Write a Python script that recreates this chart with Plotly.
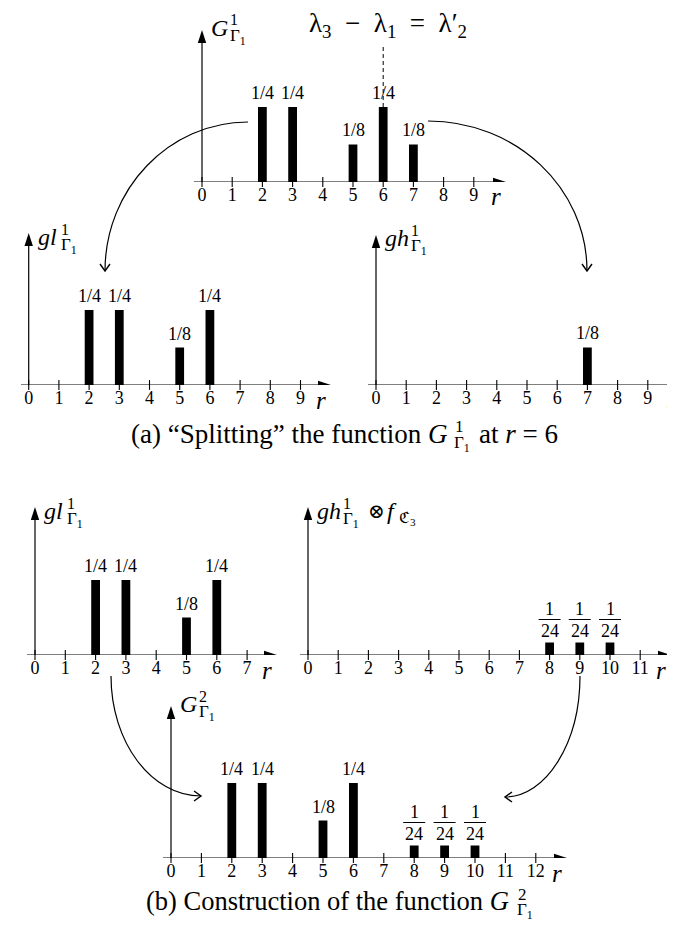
import plotly.graph_objects as go

W, H = 675, 927
FONT = "'Liberation Serif', 'Times New Roman', 'DejaVu Serif', serif"

# ---------------- data ----------------
r_G1 = [2, 3, 5, 6, 7]
p_G1 = [1/4, 1/4, 1/8, 1/4, 1/8]
lab_G1 = ["1/4", "1/4", "1/8", "1/4", "1/8"]

r_gl = [2, 3, 5, 6]
p_gl = [1/4, 1/4, 1/8, 1/4]
lab_gl = ["1/4", "1/4", "1/8", "1/4"]

r_gh = [7]
p_gh = [1/8]
lab_gh = ["1/8"]

r_ghf = [8, 9, 10]
p_ghf = [1/24, 1/24, 1/24]
lab_ghf = ["1/24", "1/24", "1/24"]

r_G2 = [2, 3, 5, 6, 8, 9, 10]
p_G2 = [1/4, 1/4, 1/8, 1/4, 1/24, 1/24, 1/24]
lab_G2 = ["1/4", "1/4", "1/8", "1/4", "1/24", "1/24", "1/24"]

ticks_G1 = list(range(0, 10))
ticks_gl_a = list(range(0, 10))
ticks_gh_a = list(range(0, 10))
ticks_gl_b = list(range(0, 8))
ticks_ghf = list(range(0, 12))
ticks_G2 = list(range(0, 13))

split_r = 6

# ---------------- layout geometry (pixels) ----------------
PXU = 300.0  # pixels per probability unit
panels = [
    dict(r=r_G1, p=p_G1, lab=lab_G1, ticks=ticks_G1, x0=194, s=30.2, base=174, xs=186, xt=498, yt=22),
    dict(r=r_gl, p=p_gl, lab=lab_gl, ticks=ticks_gl_a, x0=20.7, s=30.2, base=377, xs=13, xt=323, yt=225),
    dict(r=r_gh, p=p_gh, lab=lab_gh, ticks=ticks_gh_a, x0=368, s=30.2, base=377, xs=360, xt=673, yt=227),
    dict(r=r_gl, p=p_gl, lab=lab_gl, ticks=ticks_gl_b, x0=27, s=30.3, base=647, xs=19, xt=269, yt=499),
    dict(r=r_ghf, p=p_ghf, lab=lab_ghf, ticks=ticks_ghf, x0=300, s=30.2, base=647, xs=292, xt=663, yt=499),
    dict(r=r_G2, p=p_G2, lab=lab_G2, ticks=ticks_G2, x0=163, s=30.4, base=850, xs=155, xt=559, yt=698),
]

fig = go.Figure()
shapes = []
annotations = []
layout = {}


def PX(x):
    return x / W


def PY(y):
    return 1 - y / H


def txt(x, y, text, size, xanchor="left", yanchor="middle", italic=False):
    if italic:
        text = "<i>" + text + "</i>"
    annotations.append(dict(x=PX(x), y=PY(y), xref="paper", yref="paper", text=text,
                            showarrow=False, xanchor=xanchor, yanchor=yanchor,
                            font=dict(family=FONT, size=size, color="black")))


for k, P in enumerate(panels, start=1):
    xn = "x" if k == 1 else f"x{k}"
    yn = "y" if k == 1 else f"y{k}"
    xk = "xaxis" if k == 1 else f"xaxis{k}"
    yk = "yaxis" if k == 1 else f"yaxis{k}"
    xr = [(P["xs"] - P["x0"]) / P["s"], (P["xt"] - P["x0"]) / P["s"]]
    yr = [0, (P["base"] - P["yt"]) / PXU]
    layout[xk] = dict(domain=[PX(P["xs"]), PX(P["xt"])], range=xr, anchor="free",
                      position=PY(P["base"] - 5),
                      tickvals=P["ticks"], ticktext=[str(t) for t in P["ticks"]],
                      ticks="outside", ticklen=1, tickcolor="rgba(0,0,0,0)",
                      tickfont=dict(family=FONT, size=18, color="black"),
                      showgrid=False, zeroline=False, showline=False, fixedrange=True)
    layout[yk] = dict(domain=[PY(P["base"]), PY(P["yt"])], range=yr, anchor=xn,
                      showticklabels=False, ticks="", showgrid=False, zeroline=False,
                      showline=False, fixedrange=True)

    fig.add_trace(go.Bar(x=P["r"], y=P["p"], width=0.29, xaxis=xn, yaxis=yn,
                         marker=dict(color="black", line=dict(width=0)),
                         hoverinfo="skip", showlegend=False))
    fig.add_trace(go.Scatter(x=P["ticks"], y=[0] * len(P["ticks"]), mode="markers",
                             xaxis=xn, yaxis=yn, cliponaxis=False, hoverinfo="skip",
                             showlegend=False,
                             marker=dict(symbol="line-ns", size=7,
                                         line=dict(width=1.1, color="black"))))
    shapes.append(dict(type="line", xref=xn, yref=yn, x0=xr[0], x1=xr[1] - 8 / P["s"],
                       y0=0, y1=0, line=dict(color="black", width=1.2)))
    shapes.append(dict(type="path", xref=xn, yref=yn, xsizemode="pixel", ysizemode="pixel",
                       xanchor=xr[1], yanchor=0, path="M0,0 L-13,4.2 L-13,-4.2 Z",
                       fillcolor="black", line=dict(width=0)))
    shapes.append(dict(type="line", xref=xn, yref=yn, x0=0, x1=0, y0=0,
                       y1=yr[1] - 8 / PXU, line=dict(color="black", width=1.2)))
    shapes.append(dict(type="path", xref=xn, yref=yn, xsizemode="pixel", ysizemode="pixel",
                       xanchor=0, yanchor=yr[1], path="M0,0 L-4.2,-13 L4.2,-13 Z",
                       fillcolor="black", line=dict(width=0)))
    annotations.append(dict(x=xr[1], y=0, xref=xn, yref=yn, text="<i>r</i>", showarrow=False,
                            xanchor="center", yanchor="middle", xshift=-10, yshift=-15,
                            font=dict(family=FONT, size=25, color="black")))
    for rv, pv, lab in zip(P["r"], P["p"], P["lab"]):
        num, den = lab.split("/")
        if len(den) > 1:
            annotations.append(dict(x=rv, y=pv, xref=xn, yref=yn, text=den, showarrow=False,
                                    xanchor="center", yanchor="bottom", yshift=0,
                                    font=dict(family=FONT, size=18, color="black")))
            shapes.append(dict(type="line", xref=xn, yref=yn, xsizemode="pixel",
                               ysizemode="pixel", xanchor=rv, yanchor=pv, x0=-11, x1=11,
                               y0=23, y1=23, line=dict(color="black", width=1)))
            annotations.append(dict(x=rv, y=pv, xref=xn, yref=yn, text=num, showarrow=False,
                                    xanchor="center", yanchor="bottom", yshift=22,
                                    font=dict(family=FONT, size=18, color="black")))
        else:
            annotations.append(dict(x=rv, y=pv, xref=xn, yref=yn, text=lab, showarrow=False,
                                    xanchor="center", yanchor="bottom", yshift=2,
                                    font=dict(family=FONT, size=18, color="black")))

shapes.append(dict(type="line", xref="x", yref="y", x0=split_r, x1=split_r,
                   y0=-37 / PXU, y1=(174 - 38) / PXU,
                   line=dict(color="black", width=1, dash="4px,3px")))


def mlabel(xl, yc, main, sup, sub, xs, fs=24):
    txt(xl, yc, main, fs, italic=True)
    txt(xs, yc - 8, sup, 16)
    txt(xs, yc + 9, sub, 17)


mlabel(201, 20, "G", "1", "Γ<sub>1</sub>", 220)
mlabel(28, 229, "gl", "1", "Γ<sub>1</sub>", 51)
mlabel(375, 230, "gh", "1", "Γ<sub>1</sub>", 401)
mlabel(34, 503, "gl", "1", "Γ<sub>1</sub>", 57)
mlabel(307, 503, "gh", "1", "Γ<sub>1</sub>", 333)
txt(358, 503, "⊗", 20)
txt(377, 503, "<i>f</i>", 24)
txt(389, 510, "ℭ<sub>3</sub>", 16)
mlabel(170, 696, "G", "2", "Γ<sub>1</sub>", 189)

txt(380, 17, "λ<sub>3</sub>&nbsp; − &nbsp;λ<sub>1</sub>&nbsp; = &nbsp;λ′<sub>2</sub>", 27,
    xanchor="center")

txt(441, 426, "(a) “Splitting” the function <i>G</i>", 27, xanchor="right")
txt(445, 419, "1", 17)
txt(444, 436, "Γ<sub>1</sub>", 17)
txt(469, 426, "at <i>r</i> = 6", 27)

txt(503, 893, "(b) Construction of the function <i>G</i>", 26.5, xanchor="right")
txt(508, 886, "2", 17)
txt(507, 903, "Γ<sub>1</sub>", 17)


def arc(p0, p1, p2, p3, tip_dir):
    d = "M{},{} C{},{} {},{} {},{}".format(
        PX(p0[0]), PY(p0[1]), PX(p1[0]), PY(p1[1]), PX(p2[0]), PY(p2[1]),
        PX(p3[0]), PY(p3[1]))
    shapes.append(dict(type="path", xref="paper", yref="paper", path=d,
                       line=dict(color="black", width=1.2)))
    dx, dy = tip_dir
    px_, py_ = -dy, dx
    a1 = (p3[0] - 7 * dx + 5 * px_, p3[1] - 7 * dy + 5 * py_)
    a2 = (p3[0] - 7 * dx - 5 * px_, p3[1] - 7 * dy - 5 * py_)
    h = "M{},{} L{},{} L{},{}".format(PX(a1[0]), PY(a1[1]), PX(p3[0]), PY(p3[1]),
                                      PX(a2[0]), PY(a2[1]))
    shapes.append(dict(type="path", xref="paper", yref="paper", path=h,
                       line=dict(color="black", width=1.4)))


arc((240, 114), (161, 114), (97, 181), (97, 263), (0, 1))
arc((420, 113), (508, 113), (579, 180), (579, 263), (0, 1))
arc((103, 668), (103, 734), (143, 788), (193, 788), (1, 0))
arc((572, 668), (572, 735), (538, 789), (497, 789), (-1, 0))

fig.update_layout(width=W, height=H, margin=dict(l=0, r=0, t=0, b=0),
                  paper_bgcolor="white", plot_bgcolor="rgba(0,0,0,0)",
                  showlegend=False, hovermode=False, shapes=shapes,
                  annotations=annotations, **layout)

fig.write_html("out.html")
